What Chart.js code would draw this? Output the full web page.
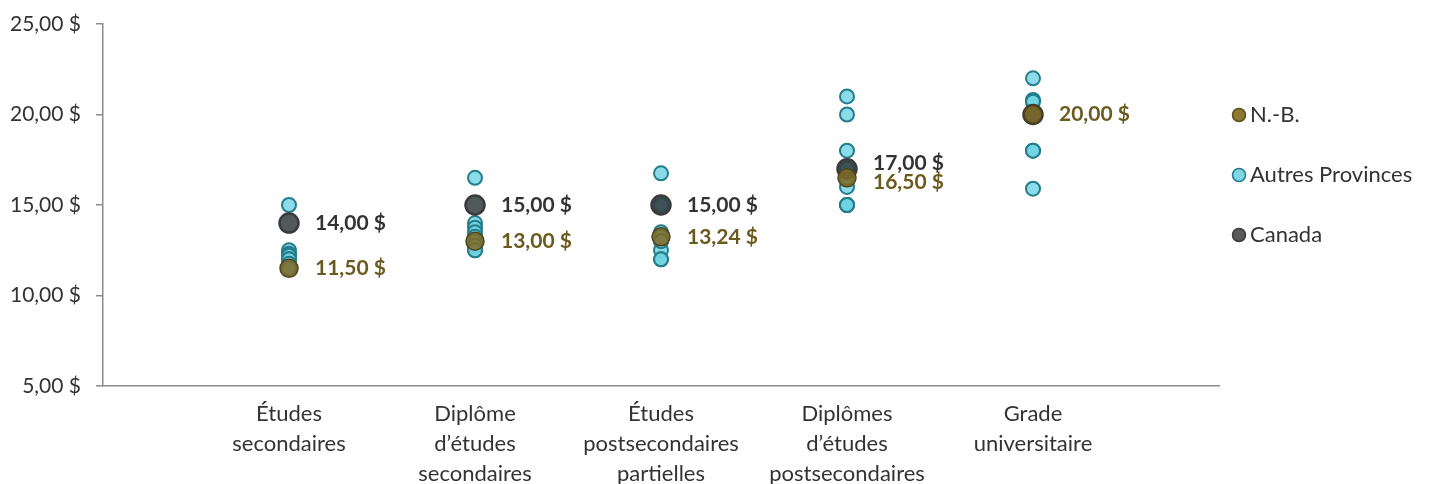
<!DOCTYPE html>
<html lang="fr">
<head>
<meta charset="utf-8">
<script src="https://cdn.jsdelivr.net/npm/chart.js@4"></script>
<style>
  body { margin: 0; background: #fff; }
  #wrap { width: 1430px; height: 484px; }
</style>
</head>
<body>
<div id="wrap"><canvas id="salaires" width="1430" height="484"></canvas></div>
<script>
// niveaux de scolarité (axe x)
const categories = [
    ['Études', 'secondaires'],
    ['Diplôme', 'd’études', 'secondaires'],
    ['Études', 'postsecondaires', 'partielles'],
    ['Diplômes', 'd’études', 'postsecondaires'],
    ['Grade', 'universitaire']
];

// salaire horaire médian ($)
const nbValues = [11.50, 13.00, 13.24, 16.50, 20.00];
const canadaValues = [14.00, 15.00, 15.00, 17.00, 20.00];
const autresProvinces = [
    [15.00, 12.50, 12.30, 12.20, 12.00, 12.00, 11.75, 11.50, 11.50],
    [16.50, 14.00, 13.75, 13.50, 13.25, 13.00, 12.75, 12.50, 12.50],
    [16.75, 15.00, 13.50, 13.25, 13.00, 12.50, 12.00, 12.00, 13.00],
    [21.00, 20.00, 18.00, 16.00, 16.50, 15.00, 15.00, 15.00, 17.00],
    [22.00, 20.80, 20.70, 20.00, 18.00, 18.00, 15.90, 20.00, 20.00]
];
const yTicks = [5, 10, 15, 20, 25];

const FONT = 'Lato, "Open Sans", sans-serif';

function fmt(v) {
    return v.toFixed(2).replace('.', ',') + ' $';
}

function toPoints(values) {
    return values.map((v, i) => ({ x: i + 1, y: v }));
}

const apPoints = [];
autresProvinces.forEach((vals, i) => {
    vals.forEach(v => apPoints.push({ x: i + 1, y: v }));
});

// étiquettes de valeurs pour N.-B. et Canada
const valueLabels = {
    id: 'valueLabels',
    afterDatasetsDraw(chart) {
        const ctx = chart.ctx;
        const nbMeta = chart.getDatasetMeta(0);
        const caMeta = chart.getDatasetMeta(2);
        ctx.save();
        ctx.font = 'bold 21px ' + FONT;
        ctx.textAlign = 'left';
        ctx.textBaseline = 'middle';
        nbMeta.data.forEach((nbPt, i) => {
            const caPt = caMeta.data[i];
            let yNb = nbPt.y;
            let yCa = caPt.y;
            const showCa = canadaValues[i] !== nbValues[i];
            if (showCa && Math.abs(yNb - yCa) < 20) {
                const mid = (yNb + yCa) / 2;
                yCa = mid - 10;
                yNb = mid + 9;
            }
            if (showCa) {
                ctx.fillStyle = '#333333';
                ctx.fillText(fmt(canadaValues[i]), caPt.x + 26, yCa);
            }
            ctx.fillStyle = '#6b5a1e';
            ctx.fillText(fmt(nbValues[i]), nbPt.x + 26, yNb);
        });
        ctx.restore();
    }
};

// légende à droite
const sideLegend = {
    id: 'sideLegend',
    afterDraw(chart) {
        const ctx = chart.ctx;
        const area = chart.chartArea;
        const items = [
            { text: 'N.-B.', fill: '#8c7a34', stroke: '#5c4d1c' },
            { text: 'Autres Provinces', fill: '#7fd7e6', stroke: '#237d8b' },
            { text: 'Canada', fill: '#595959', stroke: '#3a3a3a' }
        ];
        ctx.save();
        ctx.font = '22px ' + FONT;
        ctx.textBaseline = 'middle';
        items.forEach((it, i) => {
            const y = area.top + 91 + i * 60;
            const x = area.right + 20;
            ctx.beginPath();
            ctx.arc(x, y, 6.5, 0, Math.PI * 2);
            ctx.fillStyle = it.fill;
            ctx.fill();
            ctx.lineWidth = 1.5;
            ctx.strokeStyle = it.stroke;
            ctx.stroke();
            ctx.fillStyle = '#333333';
            ctx.fillText(it.text, x + 11, y);
        });
        ctx.restore();
    }
};

const ctx = document.getElementById('salaires').getContext('2d');
const chart = new Chart(ctx, {
    type: 'scatter',
    data: {
        datasets: [
            {
                label: 'N.-B.',
                data: toPoints(nbValues),
                backgroundColor: 'rgba(128, 106, 36, 0.85)',
                borderColor: '#4f4218',
                borderWidth: 1.5,
                pointRadius: 9,
                order: 0
            },
            {
                label: 'Autres Provinces',
                data: apPoints,
                backgroundColor: 'rgba(110, 210, 228, 0.8)',
                borderColor: '#237d8b',
                borderWidth: 2,
                pointRadius: 7,
                order: 2
            },
            {
                label: 'Canada',
                data: toPoints(canadaValues),
                backgroundColor: 'rgba(50, 60, 62, 0.85)',
                borderColor: '#3a3a3a',
                borderWidth: 2.5,
                pointRadius: 9.5,
                order: 1
            }
        ]
    },
    options: {
        responsive: false,
        animation: false,
        layout: {
            padding: { left: 0, right: 211, top: 24, bottom: 0 }
        },
        plugins: {
            legend: { display: false },
            tooltip: { enabled: false }
        },
        scales: {
            x: {
                type: 'linear',
                min: 0,
                max: 6,
                grid: { display: false, drawTicks: false },
                border: { display: true, color: '#8c8c8c', width: 1.5 },
                afterBuildTicks: scale => {
                    scale.ticks = categories.map((c, i) => ({ value: i + 1 }));
                },
                afterFit: scale => {
                    scale.height = 98;
                    scale.paddingLeft = 0;
                    scale.paddingRight = 0;
                },
                ticks: {
                    autoSkip: false,
                    maxRotation: 0,
                    padding: 13,
                    color: '#333333',
                    font: { family: FONT, size: 22, lineHeight: 1.36 },
                    callback: value => categories[value - 1]
                }
            },
            y: {
                min: 5,
                max: 25,
                afterBuildTicks: scale => {
                    scale.ticks = yTicks.map(v => ({ value: v }));
                },
                afterFit: scale => {
                    scale.width = 103;
                    scale.paddingTop = 0;
                    scale.paddingBottom = 0;
                },
                grid: {
                    drawOnChartArea: false,
                    drawTicks: true,
                    tickLength: 7,
                    tickColor: '#8c8c8c',
                    lineWidth: 1.5
                },
                border: { display: true, color: '#8c8c8c', width: 1.5 },
                ticks: {
                    padding: 15,
                    color: '#333333',
                    font: { family: FONT, size: 21 },
                    callback: value => fmt(value)
                }
            }
        }
    },
    plugins: [valueLabels, sideLegend]
});
</script>
</body>
</html>
